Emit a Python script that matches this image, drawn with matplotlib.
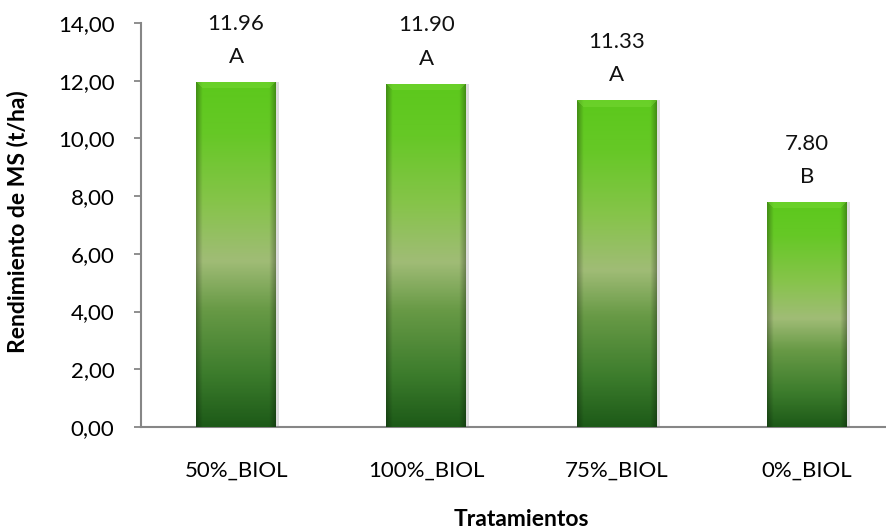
import numpy as np
import matplotlib
matplotlib.use("Agg")
import matplotlib.pyplot as plt
from matplotlib.colors import LinearSegmentedColormap, to_rgb

plt.rcParams['font.family'] = ['Lato', 'DejaVu Sans']

tratamientos = ['50%_BIOL', '100%_BIOL', '75%_BIOL', '0%_BIOL']
rendimiento = [11.96, 11.90, 11.33, 7.80]
letras = ['A', 'A', 'A', 'B']
yticks = [0, 2, 4, 6, 8, 10, 12, 14]

W, H = 886, 531
fig = plt.figure(figsize=(W / 100, H / 100), dpi=100)
ax = fig.add_axes([141 / W, (H - 427) / H, (902 - 141) / W, (427 - 23) / H])

# vertical ramp for the bars, top -> bottom
ramp = LinearSegmentedColormap.from_list('verde', [
    (0.00, '#5cc81c'),
    (0.15, '#66c826'),
    (0.35, '#86c44a'),
    (0.52, '#a0bc76'),
    (0.66, '#689a46'),
    (0.85, '#3c7c2c'),
    (1.00, '#1d5a18'),
])

x = np.arange(len(tratamientos))
ancho = 0.42
bars = ax.bar(x, rendimiento, width=ancho, color='none', edgecolor='none', zorder=3)

px_per_unit = 404 / 14
for b, v in zip(bars, rendimiento):
    x0 = b.get_x()
    h = b.get_height()
    nrows = max(int(h * px_per_unit), 2)
    ncols = 80
    t = np.linspace(0, 1, nrows)[:, None]
    img = ramp(np.repeat(t, ncols, axis=1))[..., :3]
    # darker side edges
    u = np.linspace(0, 1, ncols)
    edge = np.minimum(u, 1 - u)
    fac = 0.72 + 0.28 * np.clip(edge / 0.08, 0, 1)
    img = img * fac[None, :, None]
    # top bevel, lighter trapezoid
    for r in range(7):
        row = img[r]
        lo, hi = r, ncols - r
        row[lo:hi] = row[lo:hi] * 0.6 + np.array(to_rgb('#7edc3c')) * 0.4
    img = np.clip(img, 0, 1)
    # soft shadow to the right
    ax.bar(x0 + ancho + 0.008, h, width=0.016, color='#dcdcdc', zorder=2)
    im = ax.imshow(img, extent=[x0, x0 + ancho, 0, h], origin='upper',
                   aspect='auto', zorder=3, interpolation='bilinear')
    im.set_clip_path(b)

for xi, v, l in zip(x, rendimiento, letras):
    ax.annotate(f'{v:.2f}', (xi, v), xytext=(0, 42), textcoords='offset points',
                ha='center', va='center', fontsize=16, color='#111111')
    ax.annotate(l, (xi, v), xytext=(0, 18), textcoords='offset points',
                ha='center', va='center', fontsize=16, color='#111111')

ax.set_xlim(-0.5, len(tratamientos) - 0.5)
ax.set_ylim(0, 14)
ax.set_yticks(yticks)
ax.set_yticklabels([f'{t:.2f}'.replace('.', ',') for t in yticks], fontsize=16)
ax.set_xticks(x)
ax.set_xticklabels(tratamientos, fontsize=16)
ax.tick_params(axis='x', length=0, pad=24)
ax.tick_params(axis='y', length=5, width=1.3, color='#868686', pad=14)

for s in ['top', 'right']:
    ax.spines[s].set_visible(False)
for s in ['left', 'bottom']:
    ax.spines[s].set_color('#868686')
    ax.spines[s].set_linewidth(1.5)

fig.text(18 / W, 1 - 222 / H, 'Rendimiento de MS (t/ha)', fontsize=16.5,
         fontweight='bold', rotation=90, ha='center', va='center')
fig.text(521 / W, 1 - 519 / H, 'Tratamientos', fontsize=16.5, fontweight='bold',
         ha='center', va='center')

fig.savefig('out.png', dpi=100)
